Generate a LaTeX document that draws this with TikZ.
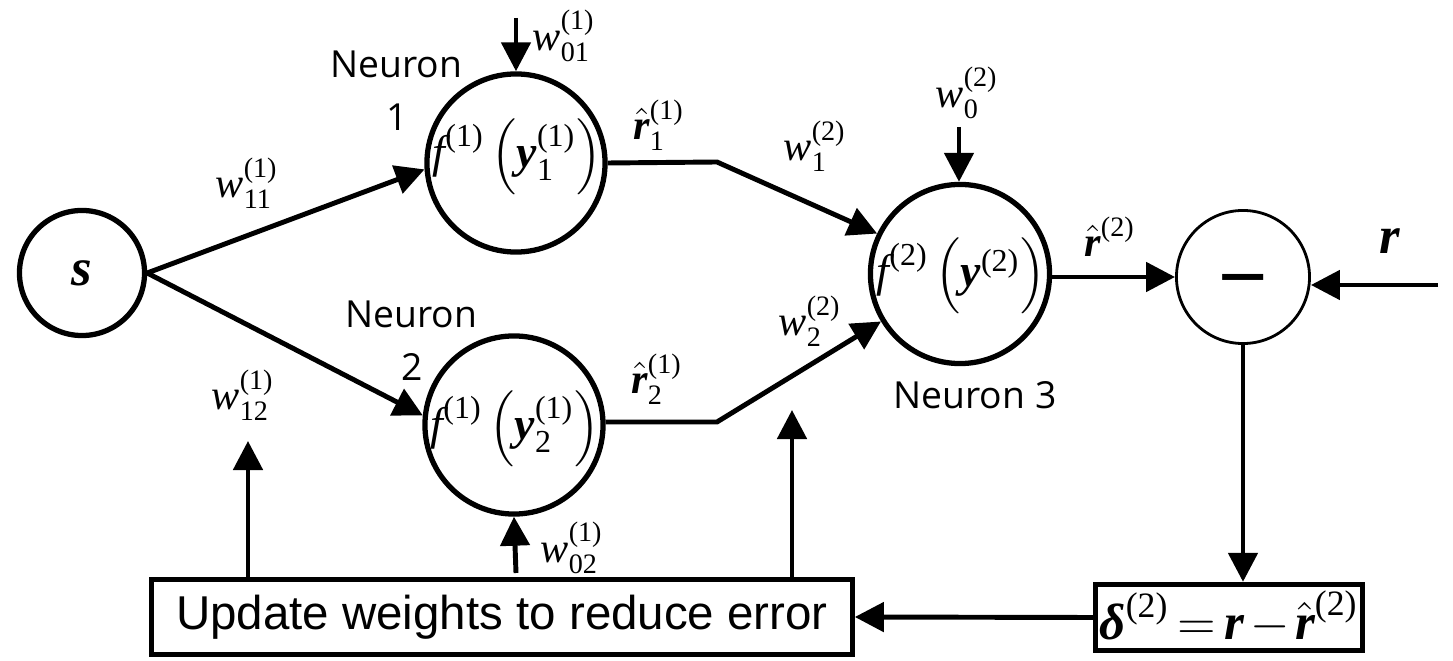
\documentclass[tikz,border=0pt]{standalone}
\usepackage{amsmath}
\usepackage{fontspec}
\setmainfont{Liberation Serif}
\newfontfamily\neufont{Open Sans}
\newfontfamily\arialfont{Liberation Sans}
\usetikzlibrary{arrows.meta,calc}
\newcommand{\bi}[1]{\text{\normalfont\bfseries\itshape #1}}
\newcommand{\itx}[1]{\text{\normalfont\itshape #1}}
\newcommand{\tx}[1]{\text{\normalfont #1}}
\newcommand{\wlab}[2]{$\itx{w}^{\tx{(#1)}}_{\tx{#2}}$}
\tikzset{
  ln/.style={line width=1.4pt},
  arr/.style={ln,-{Triangle[length=0.29cm,width=0.29cm]}},
  neuron/.style={circle,draw,line width=1.5pt,minimum size=1.78cm,inner sep=0pt},
  lab/.style={inner sep=0pt,font=\fontsize{12}{14}\selectfont},
  neu/.style={inner sep=0pt,font=\neufont\fontsize{10.6}{12}\selectfont},
  form/.style={inner sep=0pt,anchor=west,font=\fontsize{13}{16}\selectfont},
  boxn/.style={draw,line width=1.5pt,inner sep=0pt}
}
\begin{document}
\begin{tikzpicture}[x=0.01cm,y=-0.01cm]
\useasboundingbox (0,0) rectangle (1453,661);
% nodes
\node[circle,draw,line width=1.5pt,minimum size=1.25cm,inner sep=0pt,font=\fontsize{15}{17}\selectfont] (s) at (82,273) {$\bi{s}$};
\node[neuron] (n1) at (516,163) {};
\node[neuron] (n2) at (514,425) {};
\node[neuron,minimum size=1.79cm] (n3) at (960,274) {};
\node[circle,draw,line width=0.8pt,minimum size=1.33cm,inner sep=0pt] (mc) at (1243,277) {};
\node[font=\arialfont\fontsize{24}{24}\selectfont,inner sep=0pt] (minus) at (1243,290) {−};
\node[boxn,minimum width=7.0cm,minimum height=0.75cm,font=\arialfont\fontsize{13.5}{16}\selectfont] (upd) at (502,617) {Update weights to reduce error};
\node[boxn,minimum width=2.67cm,minimum height=0.66cm,font=\fontsize{14.5}{17}\selectfont] (dbox) at (1229,617.5) {\thickmuskip=3mu\medmuskip=2mu$\bi{δ}^{\tx{(2)}}=\bi{r}-\hat{\bi{r}}^{\tx{(2)}}$};
% formulas inside neurons
\node[form] (f1) at (432,157) {$\itx{f}^{\tx{(1)}}\,\Bigl(\bi{y}^{\tx{(1)}}_{\tx{1}}\Bigr)$};
\node[form] (f2) at (430,429) {$\itx{f}^{\tx{(1)}}\,\Bigl(\bi{y}^{\tx{(1)}}_{\tx{2}}\Bigr)$};
\node[form] (f3) at (876,276) {$\itx{f}^{\tx{(2)}}\,\Bigl(\bi{y}^{\tx{(2)}}\Bigr)$};
% text labels
\node[neu] (t1a) at (396,64) {Neuron};
\node[neu] (t1b) at (397,117) {1};
\node[neu] (t2a) at (411,314) {Neuron};
\node[neu] (t2b) at (412,367) {2};
\node[neu] (t3) at (975,395) {Neuron 3};
\node[lab] (lw11) at (247,183) {\wlab{1}{11}};
\node[lab] (lw12) at (243,395) {\wlab{1}{12}};
\node[lab] (lw01) at (564,36) {\wlab{1}{01}};
\node[lab] (lw02) at (572,548) {\wlab{1}{02}};
\node[lab] (lw12b) at (815,146) {\wlab{2}{1}};
\node[lab] (lw22) at (810,321) {\wlab{2}{2}};
\node[lab] (lw0) at (967,93) {\wlab{2}{0}};
\node[lab] (lr1) at (659,125) {$\hat{\bi{r}}^{\tx{(1)}}_{\tx{1}}$};
\node[lab] (lr2) at (657,379) {$\hat{\bi{r}}^{\tx{(1)}}_{\tx{2}}$};
\node[lab] (lr3) at (1110,237) {$\hat{\bi{r}}^{\tx{(2)}}$};
\node[inner sep=0pt,font=\fontsize{15}{17}\selectfont] (lr) at (1390,241) {$\bi{r}$};
% coordinates
\coordinate (b1) at (717,162);
\coordinate (b2) at (717,422);
\coordinate (w01s) at (516,18);
\coordinate (w02s) at (516,573);
\coordinate (w0s) at (959,127);
\coordinate (rin) at (1438,285);
\coordinate (c1) at (248,441);
\coordinate (c2) at (792,410);
% connectors
\draw[arr] (s.east) -- (n1.184);
\draw[arr] (s.east) -- (n2.174);
\draw[arr] (w01s) -- (n1.north);
\draw[arr] (w02s) -- (n2.south);
\draw[arr] (w0s) -- (w0s |- n3.north);
\draw[arr] (n1.east) -- (b1) -- (n3.154);
\draw[arr] (n2.east |- b2) -- (b2) -- (n3.211);
\draw[arr] (n3.east |- mc.west) -- (mc.west);
\draw[arr] (rin) -- (rin -| mc.east);
\draw[arr] (mc.south) -- (mc.south |- dbox.north);
\draw[arr] (dbox.west) -- (upd.east);
\draw[arr] (upd.north -| c1) -- (c1);
\draw[arr] (upd.north -| c2) -- (c2);
\end{tikzpicture}
\end{document}
